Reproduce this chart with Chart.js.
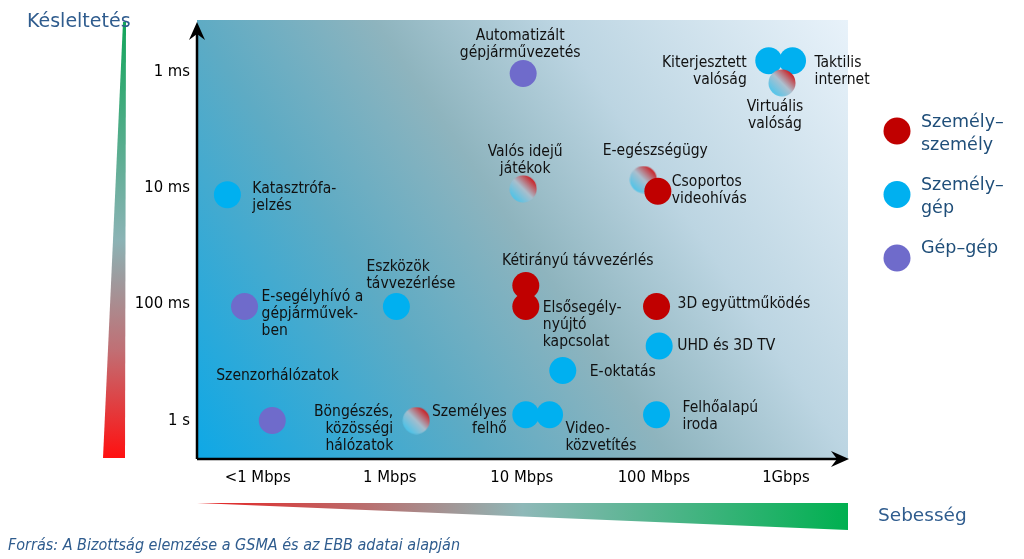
<!DOCTYPE html>
<html>
<head>
<meta charset="utf-8">
<script src="https://cdn.jsdelivr.net/npm/chart.js@4.4.1/dist/chart.umd.min.js"></script>
<style>
  body { margin: 0; background: #fff; }
  #wrap { width: 1024px; height: 559px; position: relative; }
</style>
</head>
<body>
<div id="wrap"><canvas id="chart"></canvas></div>
<script>
// tick labels (x = speed steps, y = latency steps, log scale)
const speedLabels = ['<1 Mbps', '1 Mbps', '10 Mbps', '100 Mbps', '1Gbps'];
const latencyLabels = ['1 ms', '10 ms', '100 ms', '1 s'];
const seriesNames = ['Személy–\nszemély', 'Személy–\ngép', 'Gép–gép'];

// Személy–személy
const ppNames = ['Csoportos\nvideohívás', 'Kétirányú távvezérlés', 'Elsősegély-\nnyújtó\nkapcsolat', '3D együttműködés'];
const ppSpeed = [3.03, 2.03, 2.03, 3.02];
const ppLatency = [1.03, 1.84, 2.02, 2.02];

// vegyes (személy–személy / személy–gép)
const mixNames = ['Virtuális\nvalóság', 'Valós idejű\njátékok', 'E-egészségügy', 'Böngészés,\nközösségi\nhálózatok'];
const mixSpeed = [3.97, 2.01, 2.92, 1.20];
const mixLatency = [0.1, 1.01, 0.93, 3.0];

// Személy–gép
const pmNames = ['Kiterjesztett\nvalóság', 'Taktilis\ninternet', 'Katasztrófa-\njelzés', 'Eszközök\ntávvezérlése',
  'UHD és 3D TV', 'E-oktatás', 'Személyes\nfelhő', 'Video-\nközvetítés', 'Felhőalapú\niroda'];
const pmSpeed = [3.87, 4.05, -0.23, 1.05, 3.04, 2.31, 2.03, 2.21, 3.02];
const pmLatency = [-0.09, -0.09, 1.06, 2.02, 2.36, 2.57, 2.95, 2.95, 2.95];

// Gép–gép
const mmNames = ['Automatizált\ngépjárművezetés', 'E-segélyhívó a\ngépjárművek-\nben', 'Szenzorhálózatok'];
const mmSpeed = [2.01, -0.10, 0.11];
const mmLatency = [0.02, 2.02, 3.0];

// where each label sits relative to its point: [align, dx, dy of first line]
const labelPos = {
  'Csoportos\nvideohívás': ['left', 14, -9],
  'Kétirányú távvezérlés': ['center', 52, -25],
  'Elsősegély-\nnyújtó\nkapcsolat': ['left', 17, 2],
  '3D együttműködés': ['left', 21, -2],
  'Virtuális\nvalóság': ['center', -7, 24],
  'Valós idejű\njátékok': ['center', 2, -37],
  'E-egészségügy': ['center', 12, -29],
  'Böngészés,\nközösségi\nhálózatok': ['right', -23, -9],
  'Kiterjesztett\nvalóság': ['right', -22, 2],
  'Taktilis\ninternet': ['left', 22, 2],
  'Katasztrófa-\njelzés': ['left', 25, -6],
  'Eszközök\ntávvezérlése': ['left', -30, -39],
  'UHD és 3D TV': ['left', 18, 0],
  'E-oktatás': ['left', 27, 1],
  'Személyes\nfelhő': ['right', -19, -3],
  'Video-\nközvetítés': ['left', 16, 14],
  'Felhőalapú\niroda': ['left', 26, -7],
  'Automatizált\ngépjárművezetés': ['center', -3, -38],
  'E-segélyhívó a\ngépjárművek-\nben': ['left', 17, -9],
  'Szenzorhálózatok': ['left', -56, -45]
};

const RED = '#C00000';
const BLUE = '#00B0F0';
const PURPLE = '#6F6BCB';
const TITLE_BLUE = '#2F5C8E';
const FONT = '"DejaVu Sans Condensed", "DejaVu Sans", sans-serif';

function toPoints(names, xs, ys) {
  return names.map((n, i) => ({ x: xs[i], y: ys[i], name: n }));
}

// half blue / half red marker
function mixedMarker() {
  const c = document.createElement('canvas');
  c.width = 28; c.height = 28;
  const g = c.getContext('2d');
  const grad = g.createLinearGradient(5, 23, 23, 5);
  grad.addColorStop(0, 'rgba(80,195,232,0.95)');
  grad.addColorStop(0.5, 'rgba(170,190,205,0.95)');
  grad.addColorStop(1, 'rgba(200,40,45,1)');
  g.fillStyle = grad;
  g.beginPath();
  g.arc(14, 14, 13.5, 0, Math.PI * 2);
  g.fill();
  return c;
}

function arrowHead(ctx, x, y, dir) {
  ctx.beginPath();
  if (dir === 'up') {
    ctx.moveTo(x, y);
    ctx.lineTo(x - 8, y + 18);
    ctx.lineTo(x, y + 12);
    ctx.lineTo(x + 8, y + 18);
  } else {
    ctx.moveTo(x, y);
    ctx.lineTo(x - 18, y - 8);
    ctx.lineTo(x - 12, y);
    ctx.lineTo(x - 18, y + 8);
  }
  ctx.closePath();
  ctx.fill();
}

const decor = {
  id: 'decor',
  beforeDraw(chart) {
    const { ctx, chartArea: a } = chart;
    const grad = ctx.createLinearGradient(a.left, a.bottom, a.right, a.top);
    grad.addColorStop(0, '#0EA8E6');
    grad.addColorStop(0.31, '#5EABC4');
    grad.addColorStop(0.5, '#8EB4BE');
    grad.addColorStop(0.69, '#BCD5E2');
    grad.addColorStop(1, '#E8F2FA');
    ctx.save();
    ctx.fillStyle = grad;
    ctx.fillRect(a.left, a.top, a.right - a.left, a.bottom - a.top);
    ctx.restore();
  },
  afterDatasetsDraw(chart) {
    const ctx = chart.ctx;
    ctx.save();
    ctx.font = '15.5px ' + FONT;
    ctx.fillStyle = '#111';
    ctx.textBaseline = 'middle';
    chart.data.datasets.forEach((ds, di) => {
      const meta = chart.getDatasetMeta(di);
      meta.data.forEach((pt, i) => {
        const name = ds.data[i].name;
        const p = labelPos[name] || ['left', 18, 0];
        ctx.textAlign = p[0];
        name.split('\n').forEach((line, k) => {
          ctx.fillText(line, pt.x + p[1], pt.y + p[2] + k * 17);
        });
      });
    });
    ctx.restore();
  },
  afterDraw(chart) {
    const { ctx, chartArea: a } = chart;
    ctx.save();

    // axes with arrows
    ctx.strokeStyle = '#000';
    ctx.fillStyle = '#000';
    ctx.lineWidth = 2.5;
    ctx.beginPath();
    ctx.moveTo(a.left, a.bottom);
    ctx.lineTo(a.left, a.top + 12);
    ctx.moveTo(a.left, a.bottom);
    ctx.lineTo(a.right - 10, a.bottom);
    ctx.stroke();
    arrowHead(ctx, a.left, a.top + 2, 'up');
    arrowHead(ctx, a.right + 1, a.bottom, 'right');

    // latency wedge (left)
    let g = ctx.createLinearGradient(0, 22, 0, 458);
    g.addColorStop(0, '#12A55A');
    g.addColorStop(0.5, '#8BB3B5');
    g.addColorStop(0.75, '#C07075');
    g.addColorStop(1, '#FF1010');
    ctx.fillStyle = g;
    ctx.beginPath();
    ctx.moveTo(123, 22);
    ctx.lineTo(126, 22);
    ctx.lineTo(125, 458);
    ctx.lineTo(103, 458);
    ctx.closePath();
    ctx.fill();

    // speed wedge (bottom)
    g = ctx.createLinearGradient(197, 0, 848, 0);
    g.addColorStop(0, '#E82020');
    g.addColorStop(0.5, '#8EB8B8');
    g.addColorStop(1, '#00B050');
    ctx.fillStyle = g;
    ctx.beginPath();
    ctx.moveTo(197, 503);
    ctx.lineTo(848, 503);
    ctx.lineTo(848, 530);
    ctx.closePath();
    ctx.fill();

    // titles
    ctx.fillStyle = TITLE_BLUE;
    ctx.textBaseline = 'middle';
    ctx.textAlign = 'left';
    ctx.font = '19px "DejaVu Sans", sans-serif';
    ctx.fillText('Késleltetés', 27, 22);
    ctx.font = '18.5px "DejaVu Sans", sans-serif';
    ctx.fillText('Sebesség', 878, 516);
    ctx.font = 'italic 16px ' + FONT;
    ctx.fillText('Forrás: A Bizottság elemzése a GSMA és az EBB adatai alapján', 8, 546);

    // legend
    const legendColors = [RED, BLUE, PURPLE];
    ctx.font = '17.5px "DejaVu Sans", sans-serif';
    seriesNames.forEach((s, i) => {
      const cy = 131 + i * 63.5;
      ctx.fillStyle = legendColors[i];
      ctx.beginPath();
      ctx.arc(897, cy, 13.5, 0, Math.PI * 2);
      ctx.fill();
      ctx.fillStyle = '#1F4E79';
      const lines = s.split('\n');
      const top = lines.length > 1 ? cy - 9 : cy - 10;
      lines.forEach((ln, k) => ctx.fillText(ln, 921, top + k * 23));
    });
    ctx.restore();
  }
};

const pointBase = { pointRadius: 13.5, pointHoverRadius: 13.5, borderWidth: 0, showLine: false };

new Chart(document.getElementById('chart'), {
  type: 'scatter',
  data: {
    datasets: [
      { label: 'Személy–személy', data: toPoints(ppNames, ppSpeed, ppLatency), backgroundColor: RED, ...pointBase },
      { label: 'vegyes', data: toPoints(mixNames, mixSpeed, mixLatency), pointStyle: mixedMarker(), ...pointBase },
      { label: 'Személy–gép', data: toPoints(pmNames, pmSpeed, pmLatency), backgroundColor: BLUE, ...pointBase },
      { label: 'Gép–gép', data: toPoints(mmNames, mmSpeed, mmLatency), backgroundColor: PURPLE, ...pointBase }
    ]
  },
  options: {
    responsive: true,
    maintainAspectRatio: false,
    animation: false,
    layout: { padding: { left: 100, right: 176, top: 20, bottom: 70 } },
    plugins: { legend: { display: false }, tooltip: { enabled: false } },
    scales: {
      x: {
        type: 'linear',
        min: -0.46,
        max: 4.47,
        grid: { display: false, drawTicks: false },
        border: { display: false },
        afterBuildTicks: s => { s.ticks = speedLabels.map((_, i) => ({ value: i })); },
        afterFit: s => { s.height = 30; },
        ticks: {
          padding: 9,
          color: '#000',
          font: { family: FONT, size: 16.5 },
          callback: v => speedLabels[v]
        }
      },
      y: {
        type: 'linear',
        reverse: true,
        min: -0.44,
        max: 3.33,
        grid: { display: false, drawTicks: false },
        border: { display: false },
        afterBuildTicks: s => { s.ticks = latencyLabels.map((_, i) => ({ value: i })); },
        afterFit: s => { s.width = 97; },
        ticks: {
          padding: 7,
          color: '#000',
          font: { family: FONT, size: 16.5 },
          callback: v => latencyLabels[v]
        }
      }
    }
  },
  plugins: [decor]
});
</script>
</body>
</html>
